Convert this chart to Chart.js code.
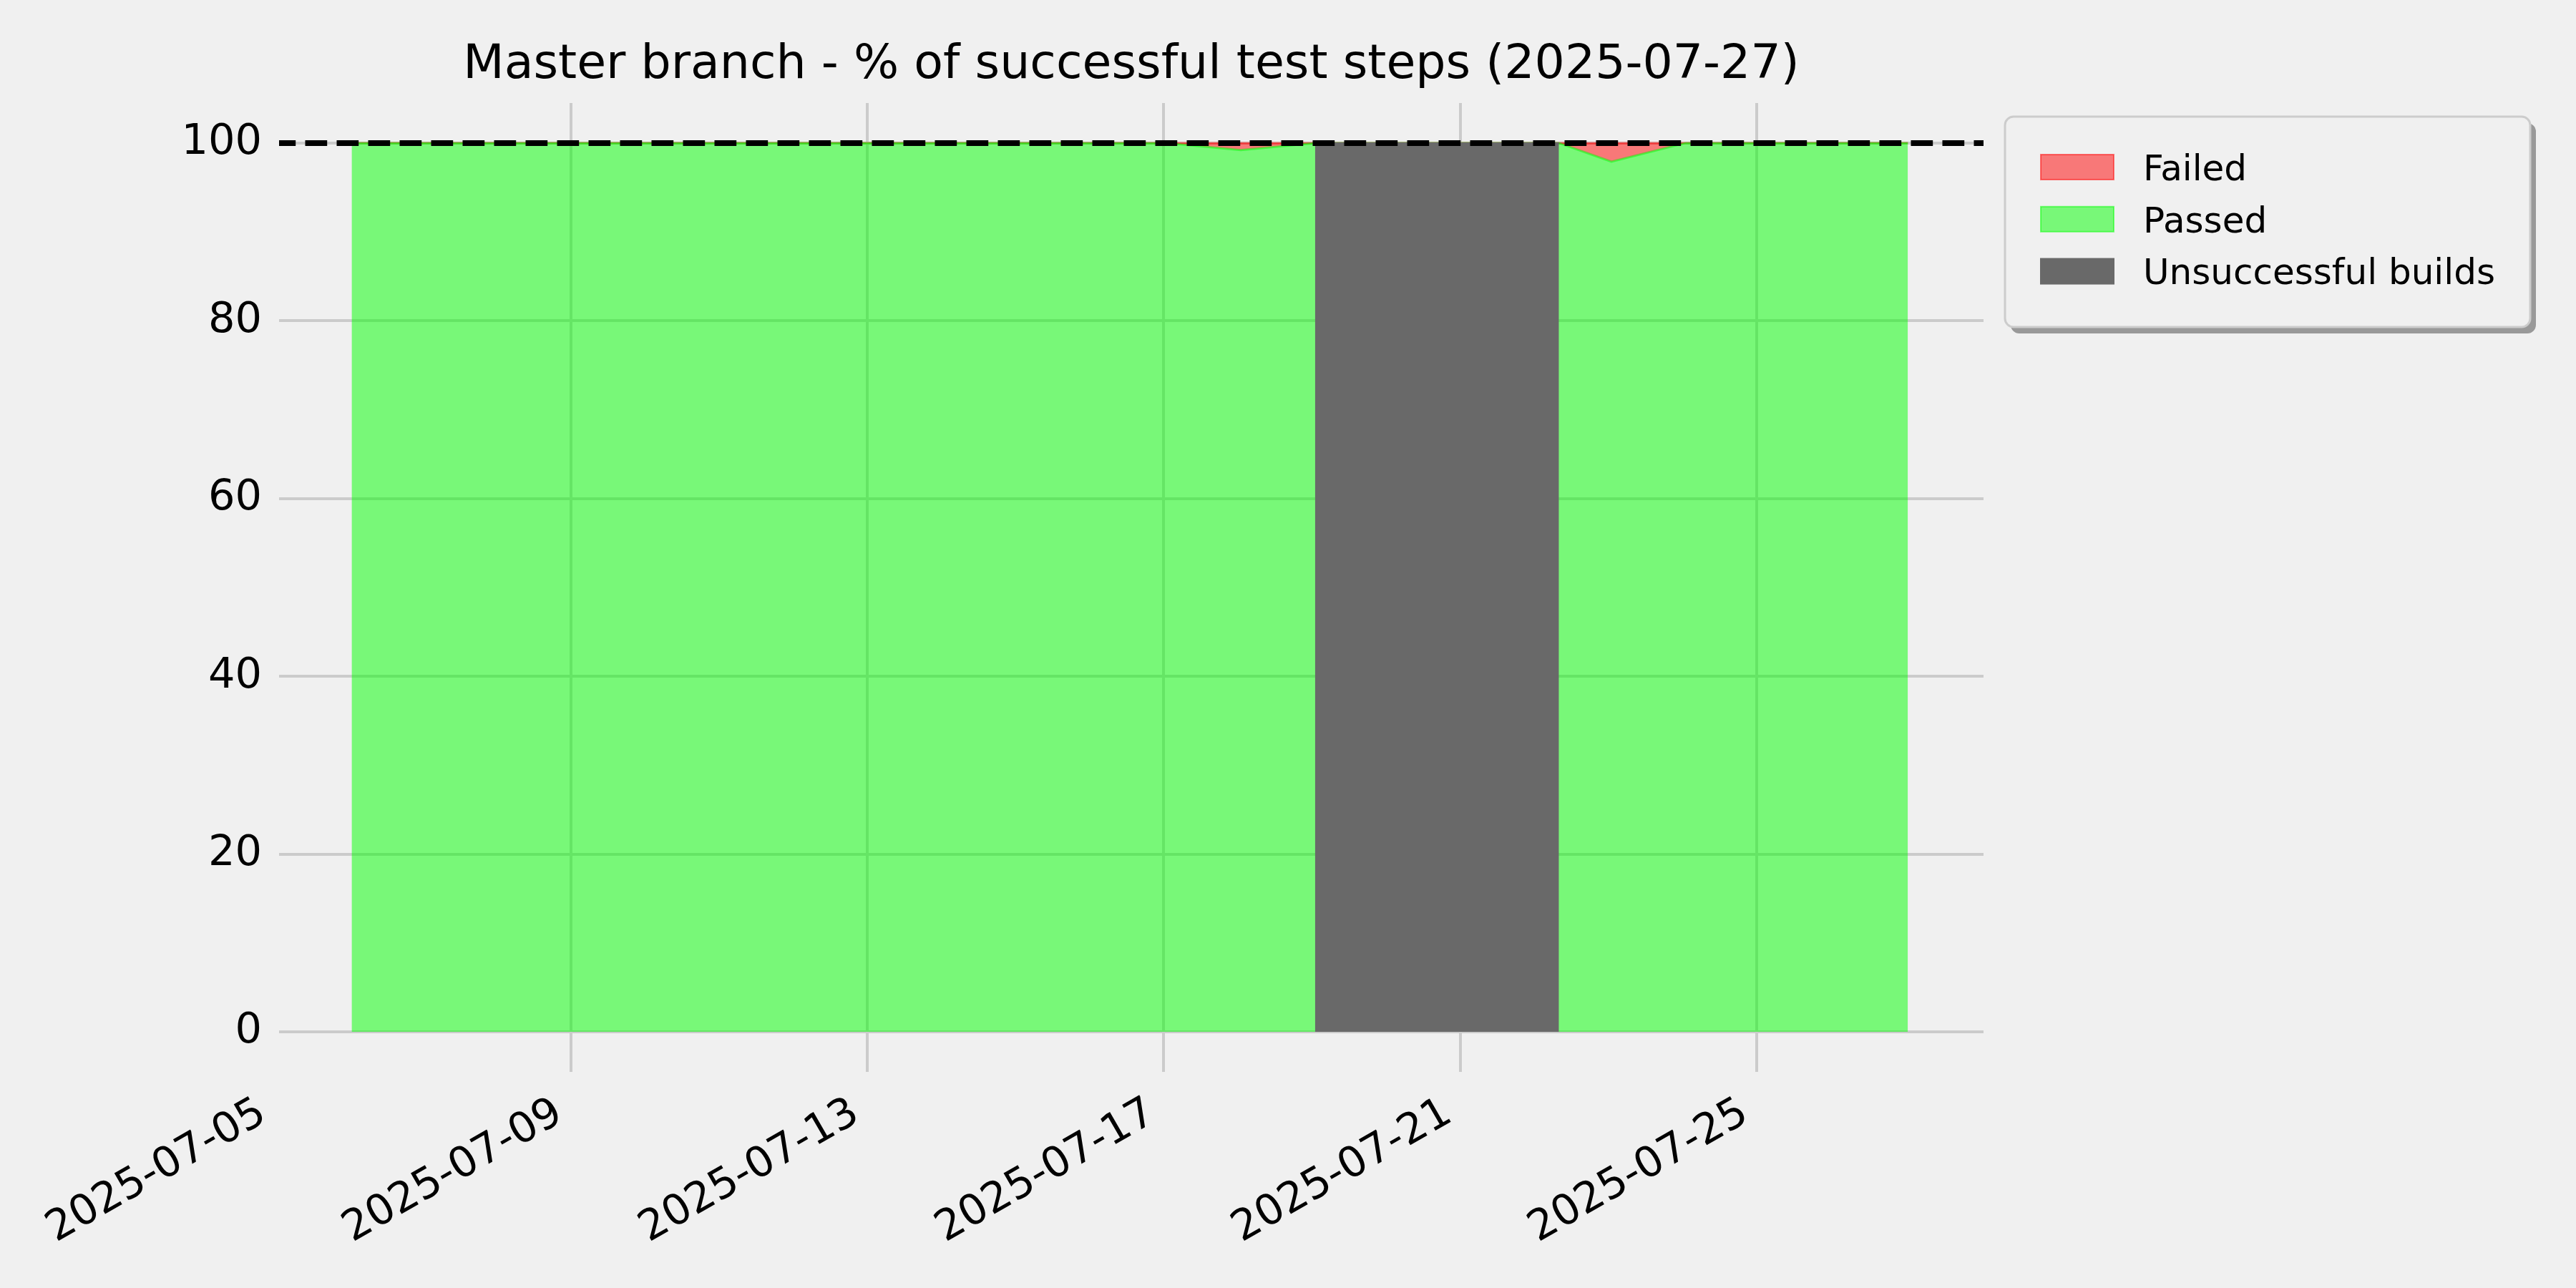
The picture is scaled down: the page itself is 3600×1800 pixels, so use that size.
<!DOCTYPE html>
<html>
<head>
<meta charset="utf-8">
<script src="https://cdn.jsdelivr.net/npm/chart.js@4.4.1/dist/chart.umd.min.js"></script>
<style>
    html, body { margin: 0; padding: 0; background: #f0f0f0; }
    canvas { display: block; }
</style>
</head>
<body>
<canvas id="myChart" width="3600" height="1800"></canvas>
<script>

// DATI

// una esecuzione al giorno (circa 01:00), dopo le build fallite la prima riuscita il 22 alle 08:00
const runDates = [
    '2025-07-06 01:00', '2025-07-07 01:00', '2025-07-08 01:00', '2025-07-09 01:00',
    '2025-07-10 01:00', '2025-07-11 01:00', '2025-07-12 01:00', '2025-07-13 01:00',
    '2025-07-14 01:00', '2025-07-15 01:00', '2025-07-16 01:00', '2025-07-17 01:00',
    '2025-07-18 01:00', '2025-07-19 01:00', '2025-07-22 08:00', '2025-07-23 01:00',
    '2025-07-24 01:00', '2025-07-25 01:00', '2025-07-26 01:00', '2025-07-27 01:00'
];
const passedPct = [100, 100, 100, 100, 100, 100, 100, 100, 100, 100, 100, 100, 99.2, 100, 100, 97.9, 100, 100, 100, 100];
const failedPct = [0, 0, 0, 0, 0, 0, 0, 0, 0, 0, 0, 0, 0.8, 0, 0, 2.1, 0, 0, 0, 0];

// periodo senza build riuscite
const unsuccessfulSpan = ['2025-07-19 01:00', '2025-07-22 08:00'];

const xTickDates = ['2025-07-05', '2025-07-09', '2025-07-13', '2025-07-17', '2025-07-21', '2025-07-25'];
const yTicks = [0, 20, 40, 60, 80, 100];
const xRange = ['2025-07-05 01:30', '2025-07-28 01:30'];
const yRange = [-4.5, 104.5];
const targetPct = 100;
const chartTitle = 'Master branch - % of successful test steps (2025-07-27)';


// date -> giorni (asse lineare, niente adapter per le date)
function toDays(s) {
    const [d, t = '00:00'] = s.split(' ');
    const [Y, M, D] = d.split('-').map(Number);
    const [h, m] = t.split(':').map(Number);
    return Date.UTC(Y, M - 1, D, h, m) / 86400000;
}

function fmtDay(v) {
    return new Date(Math.round(v * 86400000)).toISOString().slice(0, 10);
}

const xMin = toDays(xRange[0]);
const xMax = toDays(xRange[1]);

Chart.defaults.font.family = '"DejaVu Sans"';
Chart.defaults.color = '#000';

// sfondo
const bgPlugin = {
    id: 'bg',
    beforeDraw(chart) {
        const ctx = chart.ctx;
        ctx.save();
        ctx.fillStyle = '#f0f0f0';
        ctx.fillRect(0, 0, chart.width, chart.height);
        ctx.restore();
    }
};

// legenda con riquadro e ombra, fuori dal grafico a destra
const boxLegend = {
    id: 'boxLegend',
    afterDraw(chart) {
        const ctx = chart.ctx;
        const items = chart.data.datasets.filter(d => d.inLegend);
        const x = chart.chartArea.right + 30, y = 163, w = 734, h = 294;
        ctx.save();
        ctx.fillStyle = '#999999';
        ctx.beginPath();
        ctx.roundRect(x + 8, y + 9, w, h, 12);
        ctx.fill();
        ctx.fillStyle = '#f0f0f0';
        ctx.strokeStyle = '#cccccc';
        ctx.lineWidth = 3;
        ctx.beginPath();
        ctx.roundRect(x, y, w, h, 12);
        ctx.fill();
        ctx.stroke();

        ctx.font = '50px "DejaVu Sans"';
        ctx.textBaseline = 'alphabetic';
        items.forEach((d, i) => {
            const cy = y + 70.5 + i * 72.8;
            ctx.fillStyle = '#f0f0f0';
            ctx.fillRect(x + 50, cy - 17.5, 102, 35);
            ctx.fillStyle = d.backgroundColor;
            ctx.fillRect(x + 50, cy - 17.5, 102, 35);
            ctx.strokeStyle = d.borderColor;
            ctx.lineWidth = 2;
            ctx.strokeRect(x + 50, cy - 17.5, 102, 35);
            ctx.fillStyle = '#000';
            ctx.fillText(d.label, x + 193, cy + 18.2);
        });
        ctx.restore();
    }
};

const pts = (ys) => runDates.map((d, i) => ({ x: toDays(d), y: ys[i] }));

const ctx = document.getElementById('myChart').getContext('2d');
const chart = new Chart(ctx, {
    type: 'line',
    data: {
        datasets: [
            {
                label: 'Failed',
                inLegend: true,
                data: pts(passedPct.map((p, i) => p + failedPct[i])),
                fill: '+1',
                backgroundColor: 'rgba(255, 0, 0, 0.5)',
                borderColor: 'rgba(255, 0, 0, 0.5)',
                borderWidth: 3,
                pointRadius: 0,
                order: 4
            },
            {
                label: 'Passed',
                inLegend: true,
                data: pts(passedPct),
                fill: 'origin',
                backgroundColor: 'rgba(0, 255, 0, 0.5)',
                borderColor: 'rgba(0, 255, 0, 0.5)',
                borderWidth: 3,
                pointRadius: 0,
                order: 3
            },
            {
                label: 'Unsuccessful builds',
                inLegend: true,
                data: unsuccessfulSpan.map(d => ({ x: toDays(d), y: targetPct })),
                fill: 'origin',
                backgroundColor: '#696969',
                borderColor: '#696969',
                borderWidth: 2,
                pointRadius: 0,
                order: 2
            },
            {
                label: 'target',
                inLegend: false,
                data: [{ x: xMin, y: targetPct }, { x: xMax, y: targetPct }],
                fill: false,
                borderColor: '#000',
                borderWidth: 8,
                borderDash: [30.7, 13.3],
                borderDashOffset: 7.5,
                borderCapStyle: 'butt',
                pointRadius: 0,
                order: 1
            }
        ]
    },
    options: {
        responsive: false,
        animation: false,
        layout: {
            autoPadding: false,
            padding: { left: 0, right: 828, top: 0, bottom: 0 }
        },
        plugins: {
            legend: { display: false },
            tooltip: { enabled: false },
            title: {
                display: true,
                text: chartTitle,
                fullSize: false,
                color: '#000',
                font: { size: 66.5, weight: 'normal', lineHeight: 1.2 },
                padding: { top: 52, bottom: 12.2 }
            }
        },
        scales: {
            x: {
                type: 'linear',
                min: xMin,
                max: xMax,
                border: { display: false },
                grid: {
                    color: c => (c.tick && c.tick.value < xMin) ? 'rgba(0,0,0,0)' : '#cbcbcb',
                    lineWidth: 4,
                    drawTicks: false
                },
                ticks: {
                    autoSkip: false,
                    minRotation: 30,
                    maxRotation: 30,
                    padding: 23,
                    labelOffset: -16,
                    color: '#000',
                    font: { size: 59 },
                    callback: v => fmtDay(v)
                },
                afterBuildTicks: s => { s.ticks = xTickDates.map(d => ({ value: toDays(d) })); },
                afterFit: s => { s.height = 302; }
            },
            y: {
                min: yRange[0],
                max: yRange[1],
                border: { display: false },
                grid: { color: '#cbcbcb', lineWidth: 4, drawTicks: false },
                ticks: { padding: 24, color: '#000', font: { size: 59 } },
                afterBuildTicks: s => { s.ticks = yTicks.map(v => ({ value: v })); },
                afterFit: s => { s.width = 390; }
            }
        }
    },
    plugins: [bgPlugin, boxLegend]
});
</script>
</body>
</html>
